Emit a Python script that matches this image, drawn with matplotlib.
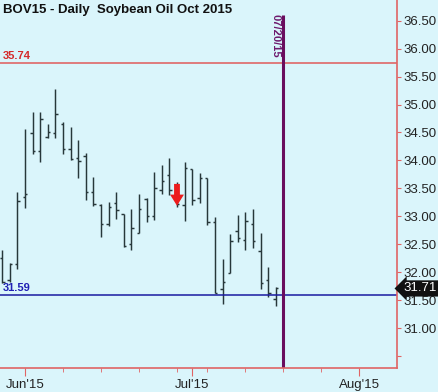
import matplotlib
matplotlib.use("Agg")
import matplotlib.pyplot as plt
import matplotlib.transforms as mtransforms
import pandas as pd

plt.rcParams["font.family"] = ["Liberation Sans", "DejaVu Sans"]

# trading calendar (Memorial Day and Jul 3 holiday excluded)
calendar = pd.bdate_range("2015-05-26", "2015-08-14", freq="C",
                          holidays=["2015-07-03"])

dates = ["2015-05-27", "2015-05-28", "2015-05-29",
         "2015-06-01", "2015-06-02", "2015-06-03", "2015-06-04", "2015-06-05",
         "2015-06-08", "2015-06-09", "2015-06-10", "2015-06-11", "2015-06-12",
         "2015-06-15", "2015-06-16", "2015-06-17", "2015-06-18", "2015-06-19",
         "2015-06-22", "2015-06-23", "2015-06-24", "2015-06-25", "2015-06-26",
         "2015-06-29", "2015-06-30", "2015-07-01", "2015-07-02",
         "2015-07-06", "2015-07-07", "2015-07-08", "2015-07-09", "2015-07-10",
         "2015-07-13", "2015-07-14", "2015-07-15", "2015-07-16", "2015-07-17"]
opens = [32.26, 31.86, 32.15,
         33.35, 34.49, 34.17, 34.42, 34.49,
         34.65, 34.20, 34.04, 34.08, 33.43,
         33.20, 32.86, 33.23, 33.04, 32.50,
         32.70, 33.31, 33.01, 33.47, 33.74,
         33.55, 33.20, 33.85, 33.32,
         33.68, 32.90, 31.70, 31.99, 32.74,
         32.58, 32.86, 32.38, 31.86, 31.53]
highs = [32.40, 32.17, 33.43,
         34.56, 34.86, 34.86, 34.65, 35.27,
         34.69, 34.60, 34.37, 34.14, 33.71,
         33.22, 33.25, 33.43, 33.05, 33.14,
         33.40, 33.32, 33.79, 33.91, 34.04,
         33.62, 33.98, 33.85, 33.78,
         33.68, 32.99, 32.24, 32.68, 33.02,
         33.07, 33.14, 32.71, 32.10, 31.74]
lows = [31.81, 31.82, 32.06,
        33.15, 34.11, 33.97, 34.40, 34.41,
        34.12, 34.01, 33.69, 33.29, 33.19,
        32.63, 32.82, 32.96, 32.46, 32.40,
        32.70, 32.89, 32.93, 33.40, 33.38,
        33.17, 32.92, 33.20, 33.23,
        32.84, 31.62, 31.43, 31.98, 32.54,
        32.40, 32.44, 31.70, 31.55, 31.39]
closes = [31.83, 32.15, 33.28,
          33.40, 34.16, 34.74, 34.51, 34.83,
          34.20, 34.03, 33.99, 33.43, 33.22,
          32.86, 33.17, 33.11, 32.47, 32.80,
          33.14, 33.01, 33.50, 33.64, 33.47,
          33.22, 33.86, 33.29, 33.68,
          32.90, 31.63, 31.83, 32.56, 32.61,
          32.92, 32.56, 31.81, 31.62, 31.71]

resistance = 35.74
support = 31.59
last_price = 31.71
marker_date = "2015-07-20"
marker_label = "07/20/15"
signal_date = "2015-06-29"
signal_top, signal_bottom = 33.58, 33.19

major_dates = ["2015-06-01", "2015-07-01", "2015-08-03"]
major_labels = ["Jun'15", "Jul'15", "Aug'15"]
minor_dates = ["2015-06-08", "2015-06-15", "2015-06-22", "2015-06-29",
               "2015-07-06", "2015-07-13", "2015-07-20", "2015-07-27"]
price_ticks = [30.5, 31.0, 31.5, 32.0, 32.5, 33.0, 33.5, 34.0, 34.5, 35.0,
               35.5, 36.0, 36.5]
price_labels = ["", "31.00", "31.50", "32.00", "32.50", "33.00", "33.50",
                "34.00", "34.50", "35.00", "35.50", "36.00", "36.50"]

origin = calendar.get_loc(pd.Timestamp("2015-06-01"))


def pos(d):
    return calendar.get_loc(pd.Timestamp(d)) - origin


bg = "#daf5fb"
axis_red = "#e06464"
bar_color = "#27373a"

fig = plt.figure(figsize=(4.39, 3.92), dpi=100, facecolor=bg)
ax = fig.add_axes([0, 0.0612, 0.9043, 0.9388], facecolor=bg)

x = [pos(d) for d in dates]
tick_w = 0.32
ax.vlines(x, lows, highs, color=bar_color, lw=1.05)
ax.hlines(opens, [p - tick_w for p in x], x, color=bar_color, lw=1.05)
ax.hlines(closes, x, [p + tick_w for p in x], color=bar_color, lw=1.05)

ax.set_xlim(-3.29, 48.95)
ax.set_ylim(30.287, 36.87)

ax.axhline(resistance, color="#e05a5a", lw=1.1)
ax.axhline(support, color="#1a1aa0", lw=1.1)
ax.vlines(pos(marker_date), 30.287, 36.60, color="#6a0d5e", lw=2.2)

ax.annotate("", xy=(pos(signal_date), signal_bottom),
            xytext=(pos(signal_date), signal_top),
            arrowprops=dict(facecolor="#ec1c1c", edgecolor="none",
                            width=4.2, headwidth=10, headlength=8, shrink=0))

trans = mtransforms.blended_transform_factory(ax.transAxes, ax.transData)
ax.text(0.007, resistance + 0.04, f"{resistance:.2f}", transform=trans,
        color="#d42a2a", fontsize=8, fontweight="bold", va="bottom")
ax.text(0.007, support + 0.04, f"{support:.2f}", transform=trans,
        color="#2020b4", fontsize=8, fontweight="bold", va="bottom")
ax.text(pos(marker_date) - 1.0, 36.62, marker_label, rotation=270,
        color="#6e1a6e", fontsize=8, fontweight="bold", ha="center",
        va="top")
ax.text(0.007, 0.99, "BOV15 - Daily  Soybean Oil Oct 2015",
        transform=ax.transAxes, fontsize=9.5, fontweight="bold",
        color="#111111", va="top")

ax.annotate(f"{last_price:.2f}", xy=(1.0, last_price), xycoords=trans,
            xytext=(4.5, 0), textcoords="offset points", va="center",
            ha="left", color="white", fontsize=9.5, annotation_clip=False,
            bbox=dict(boxstyle="larrow,pad=0.16", fc="#111111", ec="none"))

for s in ["left", "top"]:
    ax.spines[s].set_visible(False)
for s in ["right", "bottom"]:
    ax.spines[s].set_color(axis_red)
    ax.spines[s].set_linewidth(1.2)

ax.yaxis.tick_right()
ax.set_yticks(price_ticks)
ax.set_yticklabels(price_labels)
ax.tick_params(axis="y", colors=axis_red, labelcolor="#222222",
               labelsize=9.5, length=3, pad=1.5, direction="out")

ax.set_xticks([pos(d) for d in major_dates])
ax.set_xticklabels(major_labels)
ax.set_xticks([pos(d) for d in minor_dates], minor=True)
ax.tick_params(axis="x", which="major", colors=axis_red,
               labelcolor="#222222", labelsize=9.5, length=6, pad=2)
ax.tick_params(axis="x", which="minor", colors=axis_red, length=3)

fig.savefig("out.png", dpi=100, facecolor=bg)
